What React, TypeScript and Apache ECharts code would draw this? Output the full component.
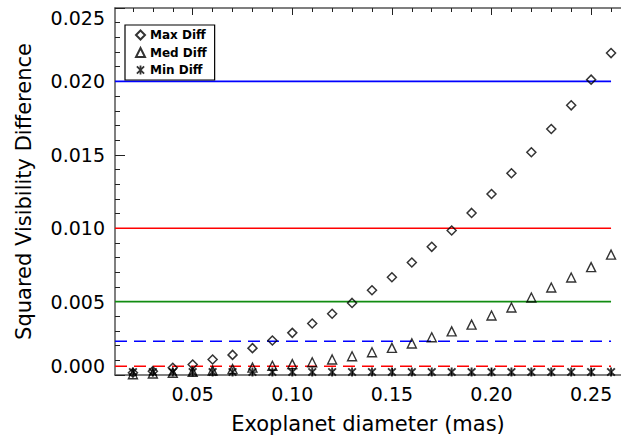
import React, { useEffect, useRef } from "react";
import * as echarts from "echarts";

// Exoplanet diameter (mas) for every sample
const diameters = [
  0.02, 0.03, 0.04, 0.05, 0.06, 0.07, 0.08, 0.09, 0.1, 0.11, 0.12, 0.13, 0.14,
  0.15, 0.16, 0.17, 0.18, 0.19, 0.2, 0.21, 0.22, 0.23, 0.24, 0.25, 0.26,
];

// Squared visibility differences
const maxDiff = [
  0.00015, 0.00026, 0.00049, 0.00071, 0.00106, 0.00137, 0.00183, 0.00235,
  0.00287, 0.00351, 0.00417, 0.00491, 0.00577, 0.00666, 0.00766, 0.00873,
  0.00984, 0.01104, 0.01233, 0.01374, 0.01517, 0.01676, 0.01837, 0.02012,
  0.02193,
];
const medDiff = [
  0.00005, 0.0001, 0.00015, 0.00022, 0.0003, 0.0004, 0.0005, 0.00063, 0.00074,
  0.00087, 0.00106, 0.00128, 0.00155, 0.00185, 0.00215, 0.00257, 0.00297,
  0.00343, 0.00405, 0.0046, 0.00528, 0.00596, 0.00664, 0.00735, 0.0082,
];
const minDiff = [
  0.0002, 0.0002, 0.0002, 0.0002, 0.0002, 0.0002, 0.0002, 0.0002, 0.0002,
  0.0002, 0.0002, 0.0002, 0.0002, 0.0002, 0.0002, 0.0002, 0.0002, 0.0002,
  0.0002, 0.0002, 0.0002, 0.0002, 0.0002, 0.0002, 0.0002,
];

// Threshold levels drawn as horizontal lines
const refLevels = [0.02, 0.01, 0.005, 0.0023, 0.0006];
const refSpan = [0.011, 0.26];

// Axis ranges and ticks
const xRange = [0.011, 0.265];
const yRange = [0, 0.025];
const xMajorTicks = [0.05, 0.1, 0.15, 0.2, 0.25];
const xMinorTicks = [
  0.02, 0.03, 0.04, 0.06, 0.07, 0.08, 0.09, 0.11, 0.12, 0.13, 0.14, 0.16, 0.17,
  0.18, 0.19, 0.21, 0.22, 0.23, 0.24, 0.26,
];

const FONT = "DejaVu Sans";
const AXIS_COLOR = "#555";
const TICK_COLOR = "#222";

// Asterisk marker: a vertical bar crossed by two diagonals
const STAR =
  "path://M8,0 L12,0 L12,20 L8,20 Z " +
  "M0.6,3.4 L3.4,0.6 L19.4,16.6 L16.6,19.4 Z " +
  "M16.6,0.6 L19.4,3.4 L3.4,19.4 L0.6,16.6 Z";

const refStyles = [
  { color: "#0000ff", type: "solid" },
  { color: "#ff0000", type: "solid" },
  { color: "#118c11", type: "solid" },
  { color: "#0000ff", type: [12, 7] },
  { color: "#ff0000", type: [12, 7] },
];

export default function App() {
  const ref = useRef<HTMLDivElement>(null);

  useEffect(() => {
    if (!ref.current) return;
    const chart = echarts.init(ref.current, null, { renderer: "svg" });

    const pts = (ys: number[]) => diameters.map((x, i) => [x, ys[i]]);

    const tickAxis = (position: "top" | "bottom", values: number[], len: number, line: boolean) => ({
      type: "value",
      position,
      min: xRange[0],
      max: xRange[1],
      axisLine: { show: line, onZero: false, lineStyle: { color: AXIS_COLOR, width: 1.5 } },
      axisTick: { show: true, inside: true, length: len, customValues: values, lineStyle: { color: TICK_COLOR, width: 1 } },
      axisLabel: { show: false },
      splitLine: { show: false },
    });

    const refSeries = refLevels.map((lv, i) => ({
      type: "line",
      name: "ref" + i,
      data: [
        [refSpan[0], lv],
        [refSpan[1], lv],
      ],
      symbol: "none",
      silent: true,
      z: 1,
      lineStyle: { color: refStyles[i].color, width: 1.6, type: refStyles[i].type },
    }));

    const option: any = {
      animation: false,
      backgroundColor: "#fff",
      grid: { left: 115, top: 8, right: 0, bottom: 63.5, containLabel: false },
      xAxis: [
        {
          type: "value",
          position: "bottom",
          min: xRange[0],
          max: xRange[1],
          name: "Exoplanet diameter (mas)",
          nameLocation: "middle",
          nameGap: 38,
          nameTextStyle: { fontFamily: FONT, fontSize: 21, color: "#000" },
          axisLine: { show: true, onZero: false, lineStyle: { color: AXIS_COLOR, width: 1.5 } },
          axisTick: { show: true, inside: true, length: 7, customValues: xMajorTicks, lineStyle: { color: TICK_COLOR, width: 1 } },
          axisLabel: {
            customValues: xMajorTicks,
            formatter: (v: number) => v.toFixed(2),
            fontFamily: FONT,
            fontSize: 19,
            color: "#000",
            margin: 9,
          },
          splitLine: { show: false },
        },
        tickAxis("bottom", xMinorTicks, 4, false),
        tickAxis("top", xMajorTicks, 7, true),
        tickAxis("top", xMinorTicks, 4, false),
      ],
      yAxis: [
        {
          type: "value",
          position: "left",
          min: yRange[0],
          max: yRange[1],
          interval: 0.005,
          name: "Squared Visibility Difference",
          nameLocation: "middle",
          nameGap: 81,
          nameTextStyle: { fontFamily: FONT, fontSize: 21, color: "#000" },
          axisLine: { show: true, lineStyle: { color: AXIS_COLOR, width: 1.5 } },
          axisTick: { show: true, inside: true, length: 10, lineStyle: { color: TICK_COLOR, width: 1 } },
          minorTick: { show: true, splitNumber: 5, length: 5, lineStyle: { color: TICK_COLOR, width: 1 } },
          axisLabel: {
            formatter: (v: number) => v.toFixed(3),
            fontFamily: FONT,
            fontSize: 19,
            color: "#000",
            margin: 10,
            verticalAlignMinLabel: "bottom",
            verticalAlignMaxLabel: "top",
          },
          splitLine: { show: false },
        },
      ],
      legend: {
        show: true,
        orient: "vertical",
        left: 125,
        top: 25,
        data: ["Max Diff", "Med Diff", "Min Diff"],
        itemWidth: 9,
        itemHeight: 9,
        itemGap: 3.5,
        padding: [3, 8, 3, 10],
        borderColor: "#000",
        borderWidth: 1.2,
        backgroundColor: "#fff",
        textStyle: { fontFamily: FONT, fontSize: 12, fontWeight: "bold", color: "#000", lineHeight: 14 },
      },
      series: [
        ...refSeries,
        {
          type: "scatter",
          name: "Max Diff",
          data: pts(maxDiff),
          symbol: "diamond",
          symbolSize: 9,
          z: 3,
          itemStyle: { color: "rgba(0,0,0,0)", borderColor: "#000", borderWidth: 1.5 },
        },
        {
          type: "scatter",
          name: "Med Diff",
          data: pts(medDiff),
          symbol: "triangle",
          symbolSize: 9,
          z: 3,
          itemStyle: { color: "rgba(0,0,0,0)", borderColor: "#000", borderWidth: 1.4 },
        },
        {
          type: "scatter",
          name: "Min Diff",
          data: pts(minDiff),
          symbol: STAR,
          symbolSize: [9, 9],
          z: 3,
          itemStyle: { color: "#000" },
        },
      ],
    };

    chart.setOption(option);
    return () => chart.dispose();
  }, []);

  return (
    <div
      ref={ref}
      style={{ position: "fixed", left: 0, top: 0, width: 621, height: 439, background: "#fff" }}
    />
  );
}
